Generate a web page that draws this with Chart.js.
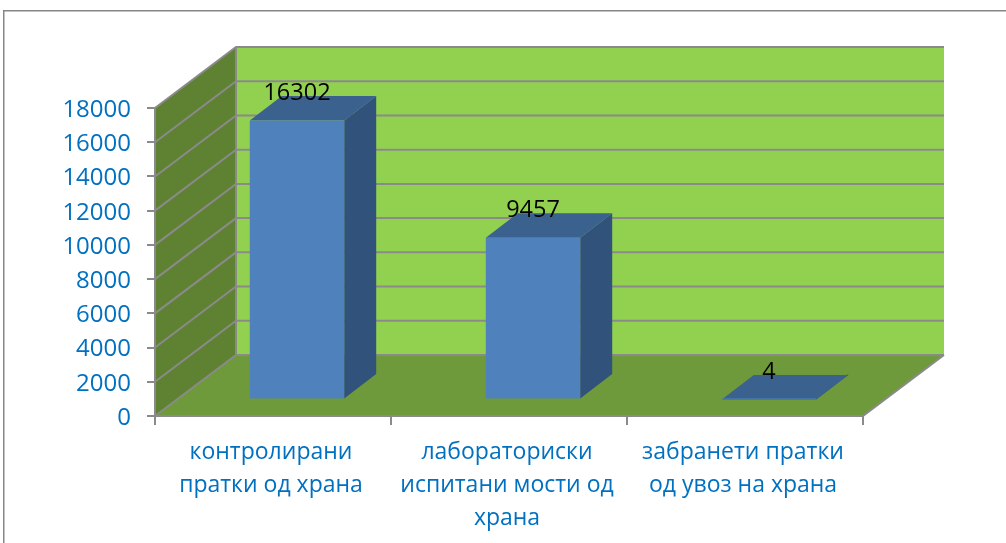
<!DOCTYPE html>
<html>
<head>
<meta charset="utf-8">
<style>html,body{margin:0;padding:0;background:#fff}canvas{display:block}</style>
<script src="https://cdn.jsdelivr.net/npm/chart.js@4"></script>
</head>
<body>
<canvas id="c" width="1006" height="543"></canvas>
<script>
const categories = [
  ["контролирани", "пратки од храна"],
  ["лабораториски", "испитани мости од", "храна"],
  ["забранети пратки", "од увоз на храна"]
];
const values = [16302, 9457, 4];
const yMax = 18000;
const yStep = 2000;

const FONT = '"Open Sans"';
const NUM_SIZE = 24;
const LABEL_SIZE = 23.5;
const CAT_SIZE = 23;
const DEPTH = {x: 81, y: -61};
const BAR_SHIFT = {x: 24, y: -16.5};
const BAR_DEPTH = {x: 32, y: -24.5};
const GRID = '#8A8A8A';

function poly(ctx, pts, fill) {
  ctx.beginPath();
  pts.forEach((p, i) => i ? ctx.lineTo(p[0], p[1]) : ctx.moveTo(p[0], p[1]));
  ctx.closePath();
  ctx.fillStyle = fill;
  ctx.fill();
}

const threeD = {
  id: 'threeD',
  beforeDraw(chart) {
    const ctx = chart.ctx, y = chart.scales.y, x = chart.scales.x;
    const L = x.left, R = x.right, B = y.getPixelForValue(0), T = y.getPixelForValue(yMax);
    const dx = DEPTH.x, dy = DEPTH.y;
    ctx.save();
    ctx.fillStyle = '#fff';
    ctx.fillRect(0, 0, chart.width, chart.height);
    ctx.strokeStyle = '#868686';
    ctx.lineWidth = 1.5;
    ctx.beginPath();
    ctx.moveTo(3.75, 543);
    ctx.lineTo(3.75, 10.75);
    ctx.lineTo(1006, 10.75);
    ctx.stroke();
    poly(ctx, [[L + dx, T + dy], [R + dx, T + dy], [R + dx, B + dy], [L + dx, B + dy]], '#92D050');
    poly(ctx, [[L, T], [L + dx, T + dy], [L + dx, B + dy], [L, B]], '#5F8232');
    poly(ctx, [[L, B], [L + dx, B + dy], [R + dx, B + dy], [R, B]], '#6F9A3B');
    ctx.strokeStyle = GRID;
    ctx.lineWidth = 2;
    for (let v = 0; v <= yMax; v += yStep) {
      const py = y.getPixelForValue(v);
      ctx.beginPath();
      ctx.moveTo(L, py);
      ctx.lineTo(L + dx, py + dy);
      ctx.lineTo(R + dx, py + dy);
      ctx.stroke();
    }
    ctx.beginPath();
    ctx.moveTo(L + dx, T + dy);
    ctx.lineTo(L + dx, B + dy);
    ctx.moveTo(R, B);
    ctx.lineTo(R + dx, B + dy);
    ctx.stroke();
    ctx.restore();
  },
  beforeDatasetsDraw(chart) {
    const ctx = chart.ctx;
    ctx.save();
    ctx.translate(BAR_SHIFT.x, BAR_SHIFT.y);
    chart.getDatasetMeta(0).data.forEach(bar => {
      const x0 = bar.x - bar.width / 2, x1 = bar.x + bar.width / 2, t = bar.y, b = bar.base;
      const dx = BAR_DEPTH.x, dy = BAR_DEPTH.y;
      poly(ctx, [[x1, t], [x1 + dx, t + dy], [x1 + dx, b + dy], [x1, b]], '#31527A');
      poly(ctx, [[x0, t], [x0 + dx, t + dy], [x1 + dx, t + dy], [x1, t]], '#3B618F');
    });
  },
  afterDatasetsDraw(chart) {
    const ctx = chart.ctx;
    ctx.restore();
    ctx.save();
    ctx.fillStyle = '#000';
    ctx.font = LABEL_SIZE + 'px ' + FONT;
    ctx.textAlign = 'center';
    ctx.textBaseline = 'middle';
    chart.getDatasetMeta(0).data.forEach((bar, i) => {
      ctx.fillText(String(values[i]), bar.x + BAR_SHIFT.x, bar.y + BAR_SHIFT.y - 27);
    });
    ctx.restore();
  }
};

new Chart(document.getElementById('c'), {
  type: 'bar',
  data: {
    labels: categories,
    datasets: [{data: values, backgroundColor: '#4F81BD', borderWidth: 0, barPercentage: 0.4, categoryPercentage: 1}]
  },
  plugins: [threeD],
  options: {
    responsive: false,
    animation: false,
    devicePixelRatio: 1,
    layout: {padding: {left: 0, top: 108, right: 143, bottom: 0}},
    plugins: {legend: {display: false}, title: {display: false}, tooltip: {enabled: false}},
    scales: {
      x: {
        afterFit: s => { s.height = 127; },
        grid: {drawOnChartArea: false, color: GRID, lineWidth: 2, tickLength: 9, offset: true},
        border: {color: GRID, width: 2},
        ticks: {autoSkip: false, maxRotation: 0, minRotation: 0, color: '#0070C0', padding: 11, labelOffset: -2,
                font: {family: FONT, size: CAT_SIZE, lineHeight: 33 / CAT_SIZE}}
      },
      y: {
        min: 0, max: yMax,
        afterFit: s => { s.width = 155; },
        grid: {drawOnChartArea: false, color: GRID, lineWidth: 2, tickLength: 8},
        border: {color: GRID, width: 2},
        ticks: {stepSize: yStep, color: '#0070C0', padding: 16, labelOffset: 2, callback: v => String(v),
                font: {family: FONT, size: NUM_SIZE}}
      }
    }
  }
});
</script>
</body>
</html>
